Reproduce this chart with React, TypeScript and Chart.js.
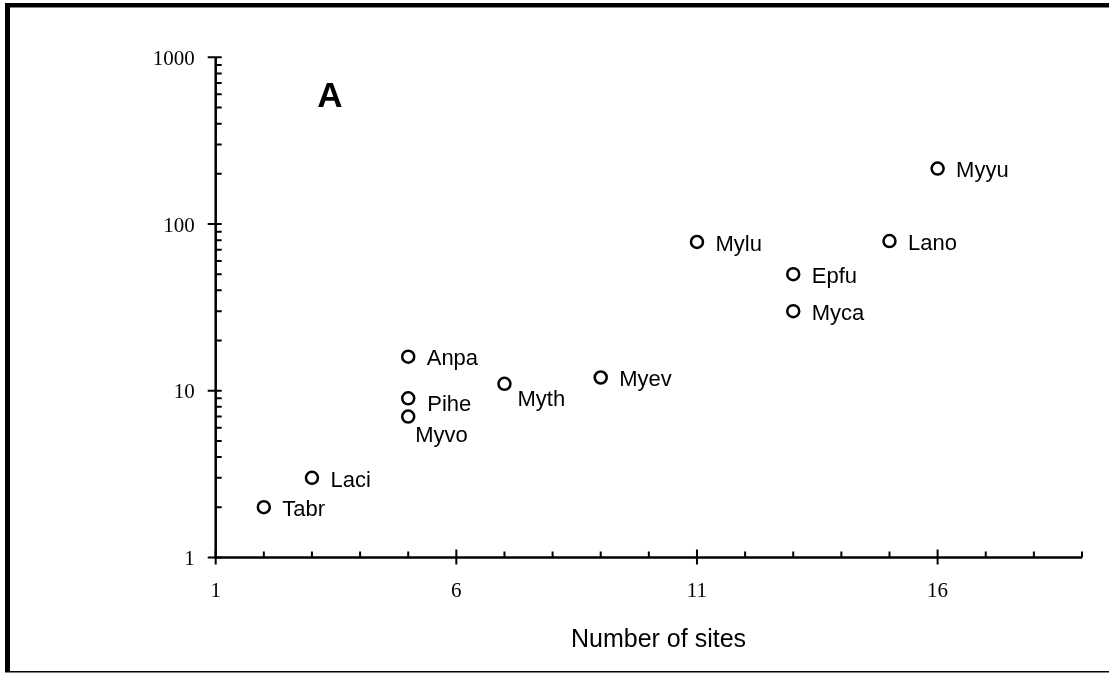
import React, { useEffect, useRef } from "react";
import { Chart, registerables } from "chart.js";

Chart.register(...registerables);

// Species codes, number of sites where each was recorded, and abundance
const species = ["Tabr", "Laci", "Anpa", "Pihe", "Myvo", "Myth", "Myev", "Mylu", "Epfu", "Myca", "Lano", "Myyu"];
const sites = [2, 3, 5, 5, 5, 7, 9, 11, 13, 13, 15, 16];
const abundance = [2, 3, 16, 9, 7, 11, 12, 78, 50, 30, 79, 215];

const xMajorTicks = [1, 6, 11, 16];
const yMajorTicks = [1, 10, 100, 1000];
const xTitle = "Number of sites";
const panelLetter = "A";

// Where each species label sits relative to its marker
const labelPlacement: Record<string, string> = { Pihe: "rightLow", Myth: "belowRight", Myvo: "below" };

const SERIF = '"Liberation Serif", "Times New Roman", serif';
const SANS = '"Liberation Sans", Arial, sans-serif';

const axesPlugin = {
  id: "figureAxes",
  beforeDatasetsDraw(chart: any) {
    const { ctx, chartArea, scales } = chart;
    const xs = scales.x;
    const ys = scales.y;
    const W = chart.width;
    const H = chart.height;
    ctx.save();
    // outer frame
    ctx.fillStyle = "#000";
    ctx.fillRect(5, 3, 5, 669);
    ctx.fillRect(5, 3, W, 4.5);
    ctx.fillRect(5, 671, W, 1.5);

    ctx.strokeStyle = "#000";
    ctx.lineCap = "butt";
    const x0 = chartArea.left;
    const yb = chartArea.bottom;
    // axis lines
    ctx.lineWidth = 2.5;
    ctx.beginPath();
    ctx.moveTo(x0, chartArea.top);
    ctx.lineTo(x0, yb + 1.25);
    ctx.moveTo(x0 - 1.25, yb);
    ctx.lineTo(chartArea.right, yb);
    ctx.stroke();

    // x ticks
    ctx.lineWidth = 2;
    ctx.beginPath();
    for (let v = xs.min; v <= xs.max; v++) {
      const px = xs.getPixelForValue(v);
      if (xMajorTicks.includes(v)) {
        ctx.moveTo(px, yb - 8);
        ctx.lineTo(px, yb + 7);
      } else {
        ctx.moveTo(px, yb - 6);
        ctx.lineTo(px, yb);
      }
    }
    // y ticks (log decades with minor ticks)
    for (let d = 0; d < yMajorTicks.length; d++) {
      const base = yMajorTicks[d];
      const py = ys.getPixelForValue(base);
      ctx.moveTo(x0 - 8, py);
      ctx.lineTo(x0 + 6, py);
      if (d < yMajorTicks.length - 1) {
        for (let m = 2; m <= 9; m++) {
          const pm = ys.getPixelForValue(base * m);
          ctx.moveTo(x0, pm);
          ctx.lineTo(x0 + 6, pm);
        }
      }
    }
    ctx.stroke();

    // tick labels
    ctx.fillStyle = "#000";
    ctx.font = `21px ${SERIF}`;
    ctx.textBaseline = "alphabetic";
    ctx.textAlign = "center";
    for (const v of xMajorTicks) {
      ctx.fillText(String(v), xs.getPixelForValue(v), yb + 40);
    }
    ctx.textAlign = "right";
    for (const v of yMajorTicks) {
      ctx.fillText(String(v), x0 - 21, ys.getPixelForValue(v) + 7.7);
    }

    // axis title
    ctx.font = `25px ${SANS}`;
    ctx.textAlign = "center";
    ctx.fillText(xTitle, 658.5, 646.5);

    // panel letter
    ctx.font = `bold 35px ${SANS}`;
    ctx.fillText(panelLetter, 330, 106.5);
    ctx.restore();
  },
  afterDatasetsDraw(chart: any) {
    const { ctx } = chart;
    const meta = chart.getDatasetMeta(0);
    ctx.save();
    ctx.fillStyle = "#000";
    ctx.font = `22px ${SANS}`;
    ctx.textAlign = "left";
    ctx.textBaseline = "alphabetic";
    meta.data.forEach((pt: any, i: number) => {
      const name = species[i];
      const place = labelPlacement[name] || "right";
      let dx = 18.5;
      let dy = 8.7;
      if (place === "rightLow") { dx = 19; dy = 12.4; }
      if (place === "belowRight") { dx = 13; dy = 22.7; }
      if (place === "below") { dx = 7; dy = 25; }
      ctx.fillText(name, pt.x + dx, pt.y + dy);
    });
    ctx.restore();
  },
};

export default function App() {
  const ref = useRef<HTMLCanvasElement>(null);

  useEffect(() => {
    if (!ref.current) return;
    const points = sites.map((s, i) => ({ x: s, y: abundance[i] }));
    const chart = new Chart(ref.current, {
      type: "scatter",
      data: {
        datasets: [
          {
            data: points,
            pointRadius: 6,
            pointHoverRadius: 6,
            pointBorderWidth: 2.5,
            pointBackgroundColor: "#fff",
            pointBorderColor: "#000",
            pointStyle: "circle",
          },
        ],
      },
      options: {
        animation: false,
        responsive: false,
        devicePixelRatio: 1,
        clip: false as any,
        layout: { padding: { left: 215.7, right: 27, top: 57.3, bottom: 116.6 } },
        plugins: { legend: { display: false }, tooltip: { enabled: false } },
        scales: {
          x: { type: "linear", min: 1, max: 19, display: false },
          y: { type: "logarithmic", min: 1, max: 1000, display: false },
        },
      },
      plugins: [axesPlugin],
    });
    return () => chart.destroy();
  }, []);

  return (
    <div style={{ position: "fixed", left: 0, top: 0, width: 1109, height: 674, background: "#fff" }}>
      <canvas ref={ref} width={1109} height={674} style={{ display: "block" }} />
    </div>
  );
}
